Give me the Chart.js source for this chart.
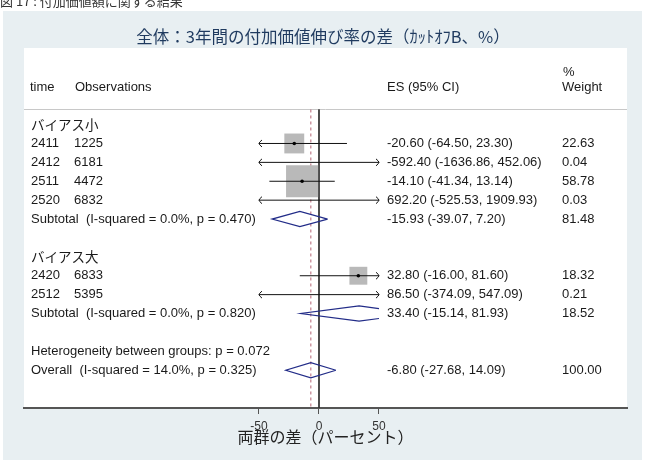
<!DOCTYPE html>
<html><head><meta charset="utf-8">
<script src="https://cdn.jsdelivr.net/npm/chart.js@4/dist/chart.umd.min.js"></script>
<style>html,body{margin:0;padding:0;background:#fff;overflow:hidden;}canvas{display:block;}</style>
</head><body>
<canvas id="c" width="645" height="460"></canvas>
<script>
// ---------------- data ----------------
const captionText = '図 17 : 付加価値額に関する結果';
const chartTitle = '全体：3年間の付加価値伸び率の差（ｶｯﾄｵﾌB、%）';
const axisTitle = '両群の差（パーセント）';
const groups = ['バイアス小', 'バイアス大'];
const timeLabels = ['2411', '2412', '2511', '2520', '2420', '2512'];
const observations = ['1225', '6181', '4472', '6832', '6833', '5395'];
const studyGroup = [0, 0, 0, 0, 1, 1];
const es = [-20.60, -592.40, -14.10, 692.20, 32.80, 86.50];
const ciLow = [-64.50, -1636.86, -41.34, -525.53, -16.00, -374.09];
const ciHigh = [23.30, 452.06, 13.14, 1909.93, 81.60, 547.09];
const weights = [22.63, 0.04, 58.78, 0.03, 18.32, 0.21];
const subtotalLabels = ['Subtotal  (I-squared = 0.0%, p = 0.470)', 'Subtotal  (I-squared = 0.0%, p = 0.820)'];
const subtotalES = [-15.93, 33.40];
const subtotalLow = [-39.07, -15.14];
const subtotalHigh = [7.20, 81.93];
const subtotalWeight = [81.48, 18.52];
const heterogeneityText = 'Heterogeneity between groups: p = 0.072';
const overallLabel = 'Overall  (I-squared = 14.0%, p = 0.325)';
const overallValues = [-6.80, -27.68, 14.09, 100.00]; // ES, low, high, weight
const xTicks = [-50, 0, 50];

// ---------------- layout ----------------
const Y_MIN = -3, Y_MAX = 16;
const X_MIN = -245.83, X_MAX = 256.67;
const CLIP = [Math.min(...xTicks), Math.max(...xTicks)];
const HALF_H = 0.4;
const FONT = '"Liberation Sans", Arial, "Noto Sans CJK JP", sans-serif';
const JFONT = '"Noto Sans CJK JP", "Liberation Sans", sans-serif';

const rows = [];
let k = 1;
groups.forEach((g, gi) => {
  rows.push({type: 'group', k: k++, gi});
  studyGroup.forEach((sg, i) => { if (sg === gi) rows.push({type: 'study', k: k++, i}); });
  rows.push({type: 'sub', k: k++, gi});
  k++;
});
rows.push({type: 'het', k: k++});
rows.push({type: 'overall', k: k++});

const clampX = v => Math.max(CLIP[0], Math.min(CLIP[1], v));
const fmt = (e, l, h) => `${e.toFixed(2)} (${l.toFixed(2)}, ${h.toFixed(2)})`;

function clipDiamond(lo, mid, hi, yk) {
  const v = [[hi, yk], [mid, yk - HALF_H], [lo, yk], [mid, yk + HALF_H], [hi, yk]];
  const pieces = []; let cur = [];
  for (let j = 0; j < 4; j++) {
    const [x1, y1] = v[j], [x2, y2] = v[j + 1];
    let t0 = 0, t1 = 1; const dx = x2 - x1;
    if (dx !== 0) {
      let ta = (CLIP[0] - x1) / dx, tb = (CLIP[1] - x1) / dx;
      if (ta > tb) [ta, tb] = [tb, ta];
      t0 = Math.max(t0, ta); t1 = Math.min(t1, tb);
    } else if (x1 < CLIP[0] || x1 > CLIP[1]) { t0 = 1; t1 = 0; }
    if (t0 > t1) { if (cur.length) pieces.push(cur); cur = []; continue; }
    const a = {x: x1 + dx * t0, y: y1 + (y2 - y1) * t0};
    const b = {x: x1 + dx * t1, y: y1 + (y2 - y1) * t1};
    if (cur.length && t0 > 0) { pieces.push(cur); cur = []; }
    if (!cur.length) cur.push(a);
    cur.push(b);
    if (t1 < 1) { pieces.push(cur); cur = []; }
  }
  if (cur.length) pieces.push(cur);
  return pieces;
}

// ---------------- datasets ----------------
const datasets = [];
const refTop = 0.2;
datasets.push({data: [{x: 0, y: refTop}, {x: 0, y: Y_MAX}], showLine: true, borderColor: '#333', borderWidth: 1, pointRadius: 0, order: 10});
datasets.push({data: [{x: overallValues[0], y: refTop}, {x: overallValues[0], y: Y_MAX}], showLine: true, borderColor: '#b46474', borderWidth: 1, borderDash: [3, 3], pointRadius: 0, order: 9});

const squares = rows.filter(r => r.type === 'study' && es[r.i] >= CLIP[0] && es[r.i] <= CLIP[1])
  .map(r => ({x: es[r.i], y: r.k, w: weights[r.i]}));
datasets.push({data: squares, pointStyle: 'rect', backgroundColor: '#b9b9b9', borderWidth: 0,
  pointRadius: c => (c.raw ? 4.18 * Math.sqrt(c.raw.w) / Math.SQRT2 : 0), order: 8});

rows.filter(r => r.type === 'study').forEach(r => {
  datasets.push({data: [{x: clampX(ciLow[r.i]), y: r.k}, {x: clampX(ciHigh[r.i]), y: r.k}],
    showLine: true, borderColor: '#111', borderWidth: 1, pointRadius: 0, order: 7});
});
datasets.push({data: squares.map(p => ({x: p.x, y: p.y})), pointStyle: 'circle', pointRadius: 1.8,
  backgroundColor: '#000', borderWidth: 0, order: 6});

rows.forEach(r => {
  let pcs = null;
  if (r.type === 'sub') pcs = clipDiamond(subtotalLow[r.gi], subtotalES[r.gi], subtotalHigh[r.gi], r.k);
  if (r.type === 'overall') pcs = clipDiamond(overallValues[1], overallValues[0], overallValues[2], r.k);
  if (pcs) pcs.forEach(p => datasets.push({data: p, showLine: true, borderColor: '#222c88', borderWidth: 1.2,
    pointRadius: 0, fill: false, order: 5}));
});

// ---------------- plugins ----------------
const bgPlugin = {
  id: 'bg',
  beforeDraw(chart) {
    const {ctx, chartArea: a} = chart;
    ctx.save();
    ctx.fillStyle = '#ffffff'; ctx.fillRect(0, 0, chart.width, chart.height);
    ctx.fillStyle = '#e8eff2'; ctx.fillRect(3, 11, 639, 449);
    ctx.fillStyle = '#ffffff'; ctx.fillRect(a.left, a.top - 1, a.right - a.left, a.bottom - a.top + 1);
    const y = chart.scales.y;
    ctx.strokeStyle = '#c8c8c8'; ctx.lineWidth = 1;
    const hy = Math.round(y.getPixelForValue(refTop)) + 0.5;
    ctx.beginPath(); ctx.moveTo(a.left, hy); ctx.lineTo(a.right, hy); ctx.stroke();
    ctx.restore();
  }
};

const arrowPlugin = {
  id: 'arrows',
  afterDatasetsDraw(chart) {
    const {ctx} = chart; const xs = chart.scales.x, ys = chart.scales.y;
    ctx.save(); ctx.strokeStyle = '#111'; ctx.lineWidth = 1;
    rows.filter(r => r.type === 'study').forEach(r => {
      const py = ys.getPixelForValue(r.k);
      if (ciLow[r.i] < CLIP[0]) {
        const px = xs.getPixelForValue(CLIP[0]);
        ctx.beginPath(); ctx.moveTo(px + 3, py - 3.5); ctx.quadraticCurveTo(px, py - 1, px, py);
        ctx.quadraticCurveTo(px, py + 1, px + 3, py + 3.5); ctx.stroke();
      }
      if (ciHigh[r.i] > CLIP[1]) {
        const px = xs.getPixelForValue(CLIP[1]);
        ctx.beginPath(); ctx.moveTo(px - 3, py - 3.5); ctx.quadraticCurveTo(px, py - 1, px, py);
        ctx.quadraticCurveTo(px, py + 1, px - 3, py + 3.5); ctx.stroke();
      }
    });
    ctx.restore();
  }
};

const textPlugin = {
  id: 'texts',
  afterDraw(chart) {
    const {ctx} = chart; const ys = chart.scales.y;
    const X0 = 31, X1 = 74, XES = 387, XW = 562;
    ctx.save();
    ctx.textAlign = 'left';
    ctx.fillStyle = '#333'; ctx.font = '13px ' + JFONT; ctx.textBaseline = 'alphabetic';
    ctx.fillText(captionText, 0, 6);
    ctx.textBaseline = 'middle'; ctx.textAlign = 'center';
    ctx.fillStyle = '#1f3a5f'; ctx.font = '16.5px ' + JFONT;
    ctx.fillText(chartTitle, 323, 37);
    ctx.textAlign = 'left';
    ctx.fillStyle = '#1a1a1a'; ctx.font = '13px ' + FONT;
    const hy = ys.getPixelForValue(-0.95);
    ctx.fillText('time', X0 - 1, hy);
    ctx.fillText('Observations', X1 + 1, hy);
    ctx.fillText('ES (95% CI)', XES, hy);
    ctx.fillText('Weight', XW, hy);
    ctx.fillText('%', XW + 1, ys.getPixelForValue(-1.75));
    rows.forEach(r => {
      const py = ys.getPixelForValue(r.k);
      if (r.type === 'group') {
        ctx.font = '13.5px ' + JFONT; ctx.fillText(groups[r.gi], X0, py); ctx.font = '13px ' + FONT;
      } else if (r.type === 'study') {
        ctx.fillText(timeLabels[r.i], X0, py);
        ctx.fillText(observations[r.i], X1, py);
        ctx.fillText(fmt(es[r.i], ciLow[r.i], ciHigh[r.i]), XES, py);
        ctx.fillText(weights[r.i].toFixed(2), XW, py);
      } else if (r.type === 'sub') {
        ctx.fillText(subtotalLabels[r.gi], X0, py);
        ctx.fillText(fmt(subtotalES[r.gi], subtotalLow[r.gi], subtotalHigh[r.gi]), XES, py);
        ctx.fillText(subtotalWeight[r.gi].toFixed(2), XW, py);
      } else if (r.type === 'het') {
        ctx.fillText(heterogeneityText, X0, py);
      } else if (r.type === 'overall') {
        ctx.fillText(overallLabel, X0, py);
        ctx.fillText(fmt(overallValues[0], overallValues[1], overallValues[2]), XES, py);
        ctx.fillText(overallValues[3].toFixed(2), XW, py);
      }
    });
    ctx.restore();
  }
};

new Chart(document.getElementById('c'), {
  type: 'scatter',
  data: {datasets},
  options: {
    responsive: false, animation: false, devicePixelRatio: 1,
    layout: {autoPadding: false, padding: {left: 24, right: 18, top: 49, bottom: 0}},
    plugins: {legend: {display: false}, tooltip: {enabled: false}, title: {display: false}},
    elements: {line: {tension: 0}},
    scales: {
      x: {
        type: 'linear', min: X_MIN, max: X_MAX,
        afterBuildTicks: s => { s.ticks = xTicks.map(v => ({value: v})); },
        afterFit: s => { s.height = 52; },
        grid: {display: true, drawOnChartArea: false, drawTicks: true, tickLength: 6, tickColor: '#555', tickWidth: 1},
        border: {display: true, color: '#555', width: 2},
        ticks: {color: '#333', font: {family: FONT, size: 12}, padding: 5, maxRotation: 0, autoSkip: false},
        title: {display: true, text: axisTitle, color: '#222', font: {family: JFONT, size: 16}, padding: {top: 0, bottom: 13}}
      },
      y: {type: 'linear', min: Y_MIN, max: Y_MAX, reverse: true, display: false}
    }
  },
  plugins: [bgPlugin, arrowPlugin, textPlugin]
});
</script>
</body></html>
